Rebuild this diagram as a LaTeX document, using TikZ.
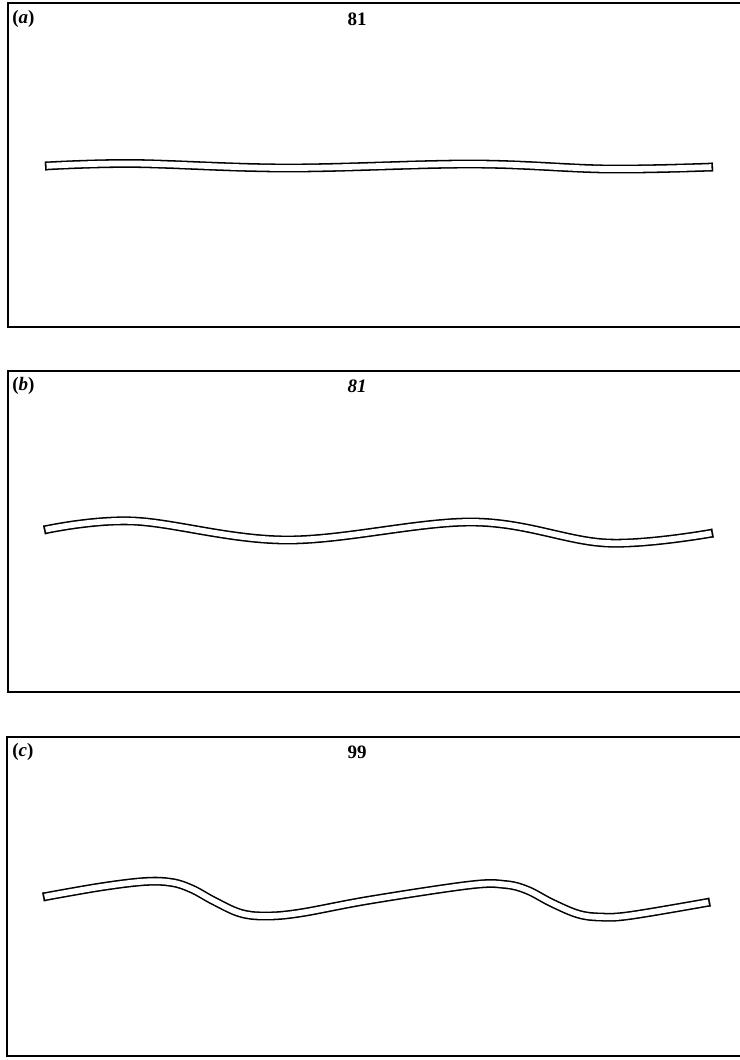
\documentclass[tikz,border=0pt]{standalone}
\usepackage{fontspec}
\setmainfont{Liberation Serif}
\usetikzlibrary{decorations.markings}

\begin{document}
\begin{tikzpicture}[x=0.025cm, y=-0.025cm,
	panel/.style={line width=1.4pt, line join=miter},
	strip/.style={line width=6.3pt, line join=round,
		postaction={draw=white, line width=4.1pt},
		postaction={decorate, decoration={markings,
				mark=at position 0.55pt with {\draw[line width=1.1pt] (0,-3.15pt) -- (0,3.15pt);},
				mark=at position -0.55pt with {\draw[line width=1.1pt] (0,-3.15pt) -- (0,3.15pt);}}}},
	tag/.style={font=\fontsize{13.5}{15}\selectfont\bfseries, inner sep=0pt}]
	\useasboundingbox (0,0) rectangle (740,1060);
	
	% Panel (a): nearly flat strip
	\begin{scope}[shift={(0,3)}]
		\draw[panel] (740,0) -- (8,0) -- (8,324) -- (740,324);
		\node[tag, anchor=west] (taga) at (12,16) {(\textit{a})};
		\node[tag] (numa) at (357,16) {81};
		\draw[strip] plot[smooth, tension=0.6] coordinates {(45,163) (133,160.5) (287,165) (473,161) (607,166) (713,164)};
	\end{scope}
	
	% Panel (b): gentle wave
	\begin{scope}[shift={(0,371)}]
		\draw[panel] (740,0) -- (8,0) -- (8,321) -- (740,321);
		\node[tag, anchor=west] (tagb) at (12,15) {(\textit{b})};
		\node[tag] (numb) at (357,15) {\textit{81}};
		\draw[strip] plot[smooth, tension=0.6] coordinates {(44,159) (133,150) (287,169) (473,151) (607,172) (713,162)};
	\end{scope}
	
	% Panel (c): steepened wave
	\begin{scope}[shift={(0,737)}]
		\draw[panel] (740,0) -- (7,0) -- (7,319) -- (740,319);
		\node[tag, anchor=west] (tagc) at (12,15) {(\textit{c})};
		\node[tag] (numc) at (357,15) {99};
		\draw[strip] plot[smooth, tension=0.6] coordinates {(43,160) (100,150) (145,144.5) (172,145.5) (192,152) (214,164) (240,176) (265,179) (300,176) (370,163) (470,148) (505,147.5) (527,153) (552,166) (578,177) (600,180) (630,178.5) (710,165)};
	\end{scope}
\end{tikzpicture}
\end{document}
